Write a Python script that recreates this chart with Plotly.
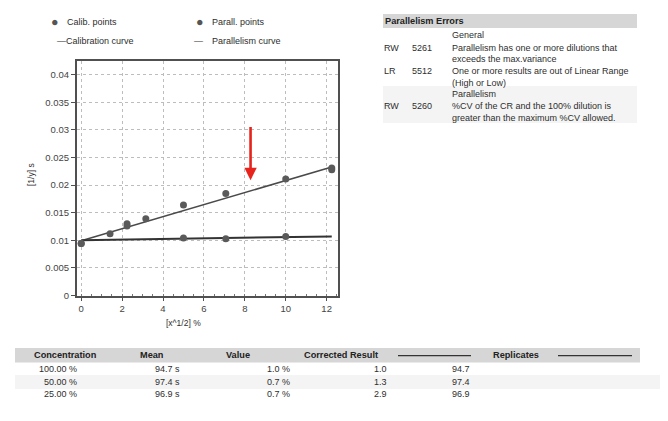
import plotly.graph_objects as go

# page is shown with the browser's default 8px body margin, so the figure is
# drawn 8px smaller and all page positions below are converted accordingly
PAGE_W, PAGE_H = 668, 421
OFF = 8
W, H = PAGE_W - 2 * OFF, PAGE_H - 2 * OFF

# ---------------- data ----------------
calib_x = [0, 1.41, 2.24, 2.24, 3.16, 5.0, 7.07, 10.0, 12.25, 12.25]
calib_y = [0.0094, 0.0112, 0.0126, 0.0130, 0.0139, 0.0164, 0.0185, 0.0211, 0.0228, 0.0231]
parall_x = [0, 5.0, 7.07, 10.0]
parall_y = [0.0094, 0.0104, 0.0103, 0.0107]
calcurve_x = [0, 12.25]
calcurve_y = [0.0099, 0.0233]
parcurve_x = [0, 12.25]
parcurve_y = [0.0100, 0.0107]

x_ticks = [0, 2, 4, 6, 8, 10, 12]
y_ticks = [0, 0.005, 0.01, 0.015, 0.02, 0.025, 0.03, 0.035, 0.04]
y_tick_labels = ["0", "0.005", "0.01", "0.015", "0.02", "0.025", "0.03", "0.035", "0.04"]

arrow_x = 8.28
arrow_y_tail = 0.0308
arrow_y_tip = 0.0209

legend_labels = ["Calib. points", "Parall. points", "Calibration curve", "Parallelism curve"]
x_title = "[x^1/2] %"
y_title = "[1/y] s"

errors_title = "Parallelism Errors"
error_groups = ["General", "Parallelism"]
error_types = ["RW", "LR", "RW"]
error_codes = ["5261", "5512", "5260"]
error_msgs = [
    ["Parallelism has one or more dilutions that", "exceeds the max.variance"],
    ["One or more results are out of Linear Range", "(High or Low)"],
    ["%CV of the CR and the 100% dilution is", "greater than the maximum %CV allowed."],
]

table_headers = ["Concentration", "Mean", "Value", "Corrected Result", "Replicates"]
table_conc = ["100.00 %", "50.00 %", "25.00 %"]
table_mean = ["94.7 s", "97.4 s", "96.9 s"]
table_value = ["1.0 %", "0.7 %", "0.7 %"]
table_corr = ["1.0", "1.3", "2.9"]
table_rep = ["94.7", "97.4", "96.9"]

# ---------------- figure ----------------
FONT = "Liberation Sans, Arial, sans-serif"
DARK = "#505050"
TXT = "#2e2e2e"

fig = go.Figure()
fig.add_trace(go.Scatter(x=calcurve_x, y=calcurve_y, mode="lines",
                         line=dict(color="#4a4a4a", width=1.6), showlegend=False))
fig.add_trace(go.Scatter(x=parcurve_x, y=parcurve_y, mode="lines",
                         line=dict(color="#333333", width=2), showlegend=False))
fig.add_trace(go.Scatter(x=calib_x, y=calib_y, mode="markers",
                         marker=dict(color="#5a5a5a", size=7), showlegend=False))
fig.add_trace(go.Scatter(x=parall_x, y=parall_y, mode="markers",
                         marker=dict(color="#5a5a5a", size=7), showlegend=False))


def px(x):
    return (x - OFF) / W


def py(y):
    return 1 - (y - OFF) / H


annotations = []


def text(t, x, y, anchor="left", size=9, bold=False, color=TXT, angle=0):
    if bold:
        t = "<b>" + t + "</b>"
    annotations.append(dict(text=t, x=px(x), y=py(y), xref="paper", yref="paper",
                            xanchor=anchor, yanchor="middle", showarrow=False,
                            textangle=angle, borderpad=0,
                            font=dict(family=FONT, size=size, color=color)))


# red arrow
annotations.append(dict(x=arrow_x, y=arrow_y_tip, ax=arrow_x, ay=arrow_y_tail,
                        xref="x", yref="y", axref="x", ayref="y", text="",
                        showarrow=True, arrowhead=2, arrowsize=0.95, arrowwidth=2.6,
                        arrowcolor="#e8231b", standoff=0))

# legend
text("\u25CF", 50, 22.5, size=12.5, color="#555")
text(legend_labels[0], 66, 22.5, size=9)
text("\u25CF", 194.5, 22.5, size=12.5, color="#555")
text(legend_labels[1], 211.5, 22.5, size=9)
text("\u2014" + legend_labels[2], 56, 40.5, size=9)
text("\u2014", 193, 40.5, size=9, color="#333")
text(legend_labels[3], 211.5, 40.5, size=9)

# axis titles
text(x_title, 183, 323, anchor="center", size=8.5)
text(y_title, 31, 175, anchor="center", size=8.5, angle=-90)

# errors panel
text(errors_title, 384, 21, size=9.2, bold=True, color="#222")
text(error_groups[0], 451, 34.5, size=9)
rows_y = [[48, 59.5], [71, 82.5], [106, 117.5]]
for i in range(3):
    text(error_types[i], 383, rows_y[i][0], size=9)
    text(error_codes[i], 411, rows_y[i][0], size=9)
    text(error_msgs[i][0], 451, rows_y[i][0], size=9)
    text(error_msgs[i][1], 451, rows_y[i][1], size=9)
text(error_groups[1], 451, 94, size=9)

# table
text(table_headers[0], 33, 355, size=9.2, bold=True, color="#222")
text(table_headers[1], 138.5, 355, size=9.2, bold=True, color="#222")
text(table_headers[2], 225, 355, size=9.2, bold=True, color="#222")
text(table_headers[3], 303, 355, size=9.2, bold=True, color="#222")
text(table_headers[4], 492, 355, size=9.2, bold=True, color="#222")
tab_y = [369, 381.5, 394]
for i in range(3):
    text(table_conc[i], 78, tab_y[i], anchor="right", size=9)
    text(table_mean[i], 181, tab_y[i], anchor="right", size=9)
    text(table_value[i], 291, tab_y[i], anchor="right", size=9)
    text(table_corr[i], 388, tab_y[i], anchor="right", size=9)
    text(table_rep[i], 471.5, tab_y[i], anchor="right", size=9)

shapes = [
    # header bands
    dict(type="rect", xref="paper", yref="paper", x0=px(383), x1=px(637), y0=py(28), y1=py(14),
         fillcolor="#d6d6d6", line_width=0, layer="below"),
    dict(type="rect", xref="paper", yref="paper", x0=px(383), x1=px(637), y0=py(123), y1=py(86),
         fillcolor="#f4f4f4", line_width=0, layer="below"),
    dict(type="rect", xref="paper", yref="paper", x0=px(15), x1=px(640), y0=py(362.5), y1=py(348),
         fillcolor="#d6d6d6", line_width=0, layer="below"),
    dict(type="rect", xref="paper", yref="paper", x0=px(15), x1=px(660), y0=py(389), y1=py(375),
         fillcolor="#f4f4f4", line_width=0, layer="below"),
    # header rule lines
    dict(type="line", xref="paper", yref="paper", x0=px(398), x1=px(471), y0=py(355.7), y1=py(355.7),
         line=dict(color="#333", width=1.2)),
    dict(type="line", xref="paper", yref="paper", x0=px(558), x1=px(632), y0=py(355.7), y1=py(355.7),
         line=dict(color="#333", width=1.2)),
]

fig.update_layout(
    width=W, height=H,
    margin=dict(l=0, r=0, t=0, b=0, autoexpand=False),
    paper_bgcolor="white", plot_bgcolor="white",
    showlegend=False,
    annotations=annotations,
    shapes=shapes,
    xaxis=dict(domain=[px(76.7), px(338.3)], range=[-0.22, 12.57], tickvals=x_ticks,
               showgrid=True, gridcolor="#bdbdbd", griddash="dot", gridwidth=1,
               zeroline=False, showline=True, linecolor=DARK, linewidth=1.5, mirror=True,
               ticks="outside", ticklen=3, tickcolor=DARK, automargin=False,
               minor=dict(dtick=0.5, ticks="inside", ticklen=2, tickcolor="#777", showgrid=False),
               tickfont=dict(family=FONT, size=9.5, color="#444")),
    yaxis=dict(domain=[py(296), py(61)], range=[-0.0001, 0.0425], tickvals=y_ticks,
               ticktext=y_tick_labels,
               showgrid=True, gridcolor="#bdbdbd", griddash="dot", gridwidth=1,
               zeroline=False, showline=True, linecolor=DARK, linewidth=1.5, mirror=True,
               ticks="outside", ticklen=4, tickcolor=DARK, automargin=False,
               tickfont=dict(family=FONT, size=9.5, color="#444")),
)

fig.write_html("out.html")
